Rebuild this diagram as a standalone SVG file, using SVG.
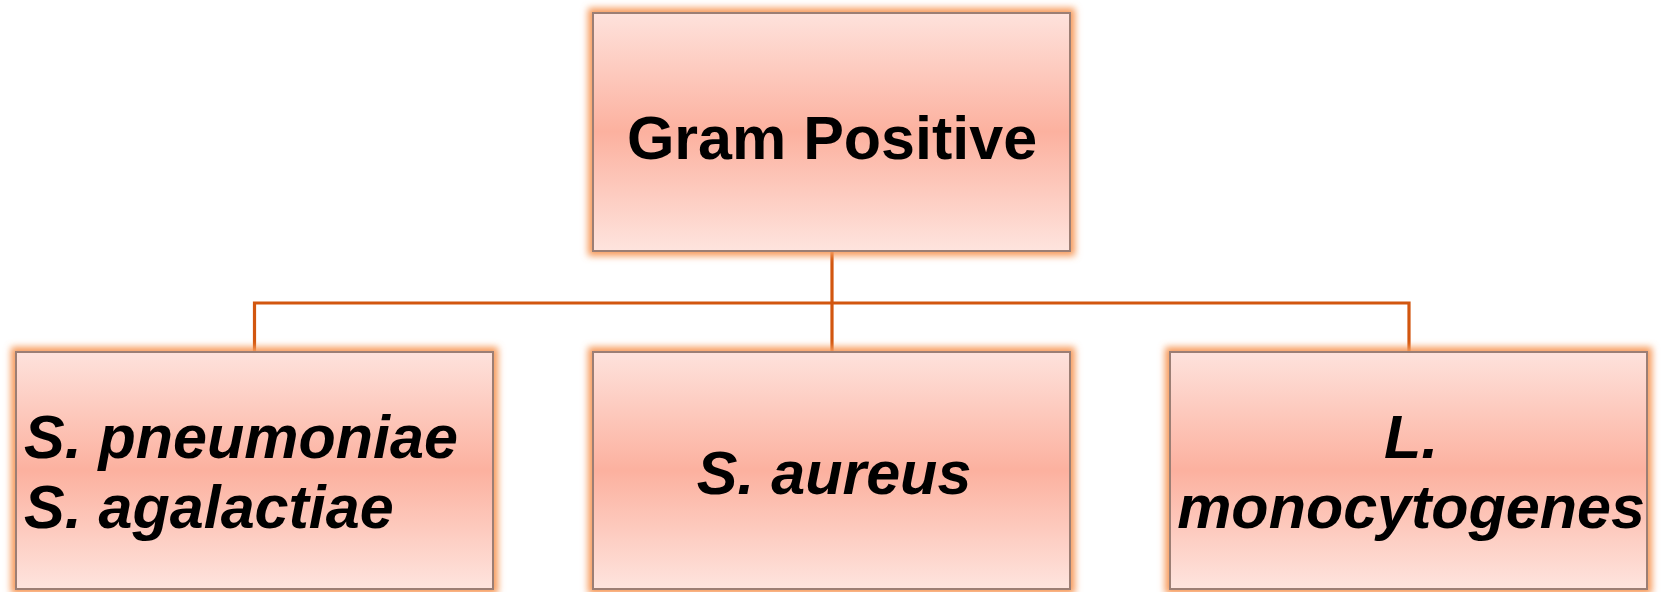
<svg xmlns="http://www.w3.org/2000/svg" width="1661" height="592" viewBox="0 0 1661 592">
<style>
.glow{fill:#f79a5a;stroke:#f79a5a;stroke-width:10;filter:url(#blur)}
.box{fill:url(#grad);stroke:#9c7e74;stroke-width:2}
.t{font-family:"Liberation Sans",Arial,sans-serif;font-weight:bold;font-size:61px;fill:#000}
.i{font-style:italic}
.conn{fill:none;stroke:#d2560f;stroke-width:3.2}
</style>
<defs>
<linearGradient id="grad" x1="0" y1="0" x2="0" y2="1">
<stop offset="0" stop-color="#fee2dc"/>
<stop offset="0.5" stop-color="#fcb19f"/>
<stop offset="1" stop-color="#fee4de"/>
</linearGradient>
<filter id="blur" x="-10%" y="-10%" width="120%" height="120%">
<feGaussianBlur stdDeviation="3.5"/>
</filter>
</defs>
<g id="connectors">
<path class="conn" d="M832 251 V303 M254.5 352 V303 H1409 V352 M832 303 V352"/>
</g>
<g id="node-gram-positive">
<rect class="glow" x="593" y="13" width="477" height="238"/>
<rect class="box" x="593" y="13" width="477" height="238"/>
<text class="t" x="832" y="159" text-anchor="middle">Gram Positive</text>
</g>
<g id="node-strep">
<rect class="glow" x="16" y="352" width="477" height="237"/>
<rect class="box" x="16" y="352" width="477" height="237"/>
<text class="t i" x="24" y="458">S. pneumoniae</text>
<text class="t i" x="24" y="528">S. agalactiae</text>
</g>
<g id="node-aureus">
<rect class="glow" x="593" y="352" width="477" height="237"/>
<rect class="box" x="593" y="352" width="477" height="237"/>
<text class="t i" x="834" y="494" text-anchor="middle">S. aureus</text>
</g>
<g id="node-listeria">
<rect class="glow" x="1170" y="352" width="477" height="237"/>
<rect class="box" x="1170" y="352" width="477" height="237"/>
<text class="t i" x="1411" y="458" text-anchor="middle">L.</text>
<text class="t i" x="1411" y="528" text-anchor="middle">monocytogenes</text>
</g>
</svg>
